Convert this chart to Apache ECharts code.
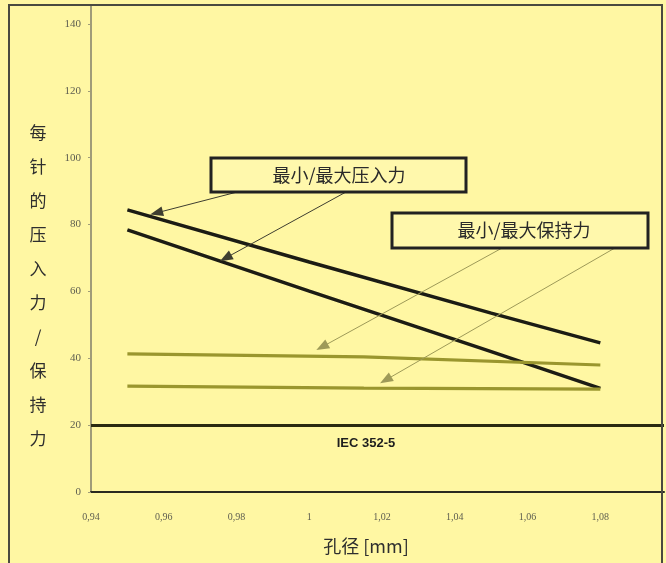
<!DOCTYPE html>
<html>
<head>
<meta charset="utf-8">
<script src="https://cdn.jsdelivr.net/npm/echarts@6/dist/echarts.min.js"></script>
<style>
html,body{margin:0;padding:0;background:#fff7a3;}
#c{width:666px;height:563px;}
</style>
</head>
<body>
<div id="c"></div>
<script>
// ---- data ----
const pressX   = [0.95, 1.0, 1.05, 1.08];
const maxPress = [84.4, 68.8, 53.5, 44.6];
const minPress = [78.4, 60.1, 42.0, 31.0];
const holdX    = [0.95, 1.015, 1.08];
const maxHold  = [41.3, 40.4, 38.0];
const minHold  = [31.7, 31.1, 30.8];
const iecLevel = 20;
const iecLabel = 'IEC 352-5';
const pressLabel = '最小/最大压入力';
const holdLabel  = '最小/最大保持力';
const yTitle = ['每','针','的','压','入','力','/','保','持','力'];
const xTitle = '孔径 [mm]';
// annotation arrows in data coordinates: [from, to]
const pressArrows = [[[0.980, 89.7],[0.958, 83.5]], [[1.010, 89.7],[0.977, 70.0]]];
const holdArrows  = [[[1.053, 73.0],[1.0035, 43.4]], [[1.084, 73.0],[1.021, 33.5]]];

const pair = (xs, ys) => xs.map((x, i) => [x, ys[i]]);

const chart = echarts.init(document.getElementById('c'));
chart.setOption({
  animation: false,
  backgroundColor: '#fff7a3',
  grid: {left: 91, top: 6, right: 2, bottom: 71},
  xAxis: {
    type: 'value', min: 0.94, max: 1.0975, interval: 0.02,
    axisLine: {show: true, onZero: false, lineStyle: {color: '#2a2a20', width: 2}},
    axisTick: {show: false},
    splitLine: {show: false},
    axisLabel: {
      showMaxLabel: false, margin: 20, color: '#5e5e50', fontSize: 10,
      fontFamily: 'Liberation Serif',
      formatter: v => String(+v.toFixed(2)).replace('.', ',')
    }
  },
  yAxis: {
    type: 'value', min: 0, max: 145.4, interval: 20,
    axisLine: {show: true, lineStyle: {color: '#a09c78', width: 2}},
    axisTick: {show: true, length: 3, lineStyle: {color: '#a09c78'}},
    splitLine: {show: false},
    axisLabel: {showMaxLabel: false, margin: 10, color: '#5e5e50', fontSize: 11, fontFamily: 'Liberation Serif'}
  },
  series: [
    {type: 'line', data: pair(pressX, maxPress), symbol: 'none', lineStyle: {color: '#1c1c14', width: 3.5}},
    {type: 'line', data: pair(pressX, minPress), symbol: 'none', lineStyle: {color: '#1c1c14', width: 3.5}},
    {type: 'line', data: pair(holdX, maxHold), symbol: 'none', lineStyle: {color: '#9a962e', width: 3.2}},
    {type: 'line', data: pair(holdX, minHold), symbol: 'none', lineStyle: {color: '#9a962e', width: 3.2}},
    {
      type: 'line', data: [], symbol: 'none',
      markLine: {
        silent: true, symbol: ['none', 'none'], label: {show: false},
        lineStyle: {color: '#2a2a10', width: 3, type: 'solid'},
        data: [{yAxis: iecLevel}]
      }
    },
    {
      type: 'line', data: [], symbol: 'none',
      markLine: {
        silent: true, symbol: ['none', 'triangle'], symbolSize: [10, 13], label: {show: false},
        lineStyle: {color: '#3e3e30', width: 1, type: 'solid'},
        data: pressArrows.map(a => [{coord: a[0]}, {coord: a[1]}])
      }
    },
    {
      type: 'line', data: [], symbol: 'none',
      markLine: {
        silent: true, symbol: ['none', 'triangle'], symbolSize: [10, 13], label: {show: false},
        lineStyle: {color: '#9e9a58', width: 1, type: 'solid'},
        data: holdArrows.map(a => [{coord: a[0]}, {coord: a[1]}])
      }
    }
  ],
  graphic: [
    {type: 'rect', shape: {x: 9, y: 5, width: 653, height: 580}, style: {fill: 'none', stroke: '#4a4a40', lineWidth: 2}, z: 100},
    {type: 'rect', shape: {x: 211, y: 158, width: 255, height: 34}, style: {fill: '#fff8ac', stroke: '#222', lineWidth: 3}, z: 100},
    {type: 'text', x: 339, y: 175, style: {text: pressLabel, fill: '#2a2a2a', font: '18px "Noto Sans CJK SC"', textAlign: 'center', textVerticalAlign: 'middle'}, z: 101},
    {type: 'rect', shape: {x: 392, y: 213, width: 256, height: 35}, style: {fill: '#fff8ac', stroke: '#222', lineWidth: 3}, z: 100},
    {type: 'text', x: 524, y: 230, style: {text: holdLabel, fill: '#2a2a2a', font: '18px "Noto Sans CJK SC"', textAlign: 'center', textVerticalAlign: 'middle'}, z: 101},
    {type: 'text', x: 366, y: 443, style: {text: iecLabel, fill: '#1e1e1e', font: 'bold 13px "Liberation Sans Narrow", "Liberation Sans"', textAlign: 'center', textVerticalAlign: 'middle'}, z: 101},
    {type: 'text', x: 38, y: 116, style: {text: yTitle.join('\n'), fill: '#2e2e2e', font: '17px "Noto Sans CJK SC"', lineHeight: 33.9, textAlign: 'center', textVerticalAlign: 'top'}, z: 101},
    {type: 'text', x: 366, y: 546, style: {text: xTitle, fill: '#2e2e2e', font: '18px "Noto Sans CJK SC"', textAlign: 'center', textVerticalAlign: 'middle'}, z: 101}
  ]
});
</script>
</body>
</html>
